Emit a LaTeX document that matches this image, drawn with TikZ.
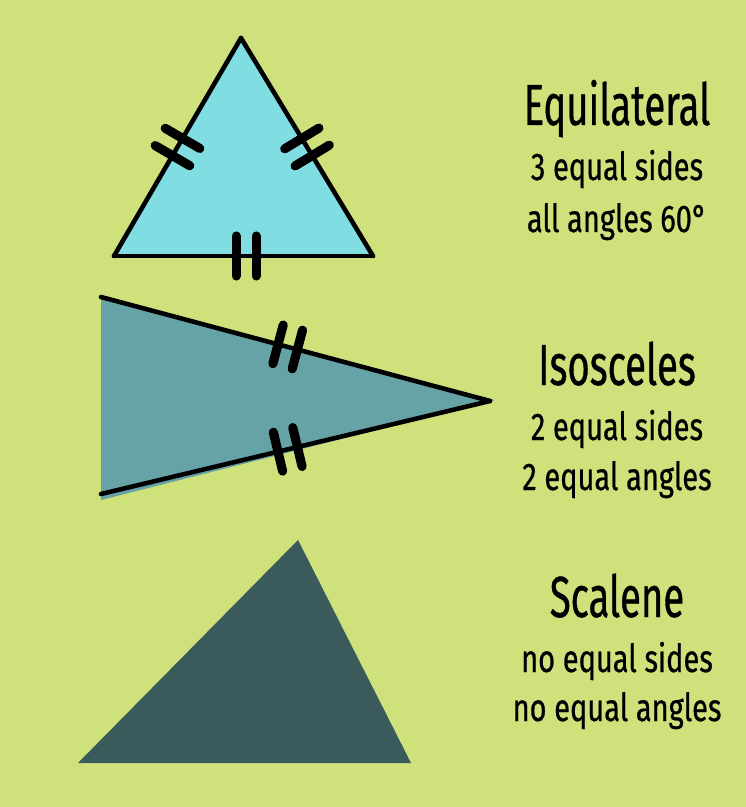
\documentclass[tikz,border=0pt]{standalone}
\usepackage{fontspec}
\setmainfont{Fira Sans}
\newfontfamily\titlefont{Fira Sans}[FakeStretch=0.66,FakeBold=0.6]
\newfontfamily\infofont{Fira Sans}[FakeStretch=0.75,FakeBold=0.6]
\usetikzlibrary{decorations.markings}

\definecolor{bgcol}{RGB}{207,225,122}
\definecolor{eqcol}{RGB}{128,222,227}
\definecolor{isocol}{RGB}{102,163,166}
\definecolor{scacol}{RGB}{58,90,91}

\begin{document}
\begin{tikzpicture}[x=0.02cm,y=-0.02cm,
    side/.style={line width=2.6pt,line cap=round},
    ticks/.style={decoration={markings,mark=at position #1 with {
          \draw[line width=5.2pt,line cap=round] (-10,-20) -- (-10,20);
          \draw[line width=5.2pt,line cap=round] (10,-20) -- (10,20);}},
      postaction={decorate}},
    ticks/.default=0.5,
    title/.style={anchor=base,font=\titlefont\fontsize{33}{36}\selectfont},
    info/.style={anchor=base,font=\infofont\fontsize{22}{24}\selectfont}]

  \fill[bgcol] (0,0) rectangle (746,807);
  \useasboundingbox (0,0) rectangle (746,807);

  % equilateral
  \coordinate (ea) at (241,38);
  \coordinate (eb) at (114,256);
  \coordinate (ec) at (373,256);
  \fill[eqcol] (243,38) -- (375,256) -- (114,256) -- cycle;
  \draw[side,ticks] (eb) -- (ea);
  \draw[side,ticks] (ea) -- (ec);
  \draw[side,ticks=0.51] (eb) -- (ec);

  % isosceles
  \coordinate (ia) at (101,297);
  \coordinate (ib) at (101,494);
  \coordinate (ic) at (490,401);
  \fill[isocol] (ia) -- (495,400) -- (101,500) -- cycle;
  \draw[side,ticks=0.48] (ia) -- (ic);
  \draw[side,ticks=0.48] (ib) -- (ic);

  % scalene
  \coordinate (sa) at (78,763);
  \coordinate (sb) at (298,540);
  \coordinate (sc) at (411,763);
  \fill[scacol] (sa) -- (sb) -- (sc) -- cycle;

  \node[title] (eqname) at (617,125) {Equilateral};
  \node[info] (eqsides) at (617,180) {3 equal sides};
  \node[info] (eqangles) at (617,232) {all angles 60°};

  \node[title] (isoname) at (617,385) {Isosceles};
  \node[info] (isosides) at (617,440) {2 equal sides};
  \node[info] (isoangles) at (617,490) {2 equal angles};

  \node[title] (scaname) at (617,617) {Scalene};
  \node[info] (scasides) at (617,672) {no equal sides};
  \node[info] (scaangles) at (617,721) {no equal angles};

\end{tikzpicture}
\end{document}
